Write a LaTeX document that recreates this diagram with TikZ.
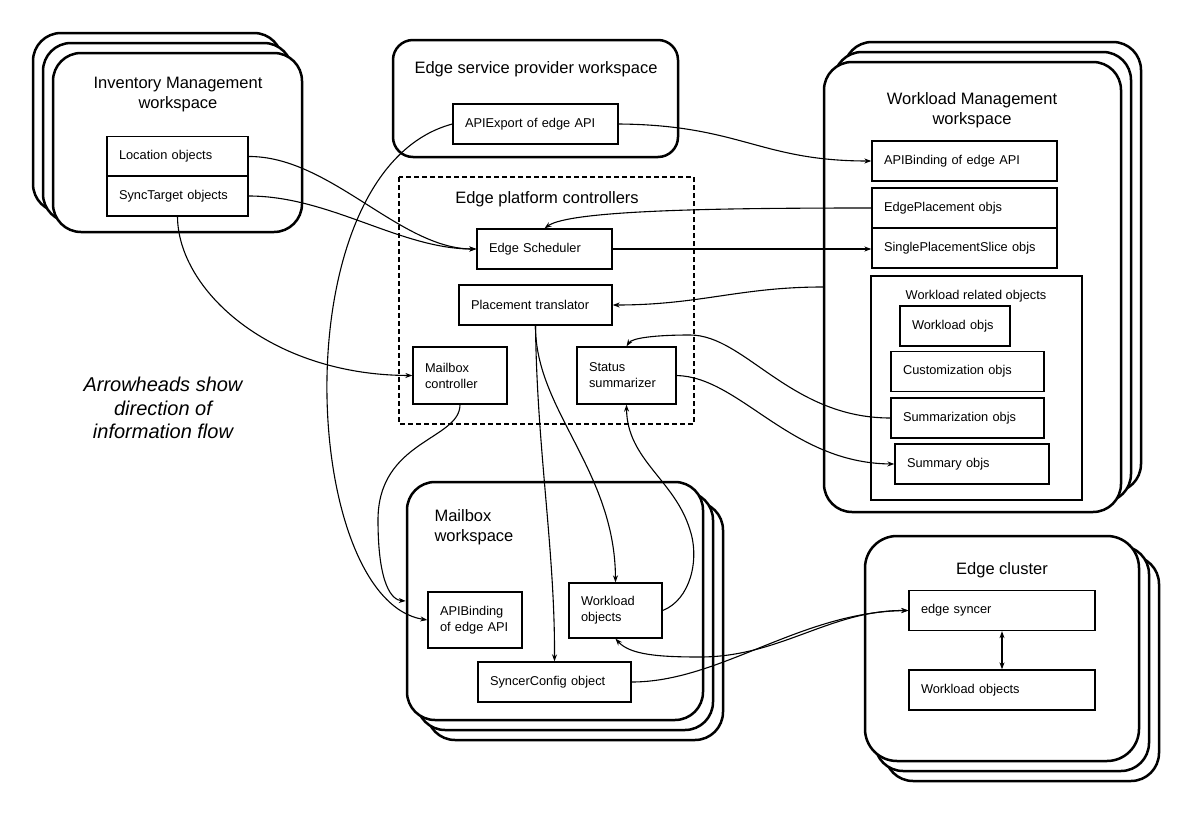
\documentclass[tikz,border=0pt]{standalone}
\usepackage{fontspec}
\setmainfont{Liberation Sans}
\usetikzlibrary{arrows.meta}

\begin{document}
\begin{tikzpicture}[x=1pt, y=-1pt, >={Stealth[length=7pt,width=5pt]},
  ws/.style={draw, line width=2.5pt, rounded corners=28pt, fill=white},
  box/.style={draw, line width=1.3pt, fill=white, inner xsep=12pt, inner ysep=0pt, align=left, minimum height=40pt, font=\fontsize{12.8}{16}\selectfont},
  title/.style={font=\fontsize{16.5}{20}\selectfont, align=center},
  flow/.style={->, line width=1.1pt}]
\useasboundingbox (0,0) rectangle (1200,835);

\foreach \d in {20,10} \draw[ws] (53-\d,53-\d) rectangle ++(249,179);
\node (inv) [ws, minimum width=249pt, minimum height=179pt] at (177.5,142.5) {};
\node (esp) [ws, rounded corners=20pt, minimum width=285pt, minimum height=117pt] at (535.5,98.5) {};
\foreach \d in {20,10} \draw[ws] (824+\d,62-\d) rectangle ++(297,450);
\node (wm) [ws, minimum width=297pt, minimum height=450pt] at (972.5,287) {};
\foreach \d in {20,10} \draw[ws] (407+\d,482+\d) rectangle ++(296,238);
\node (mbws) [ws, minimum width=296pt, minimum height=238pt] at (555,601) {};
\foreach \d in {20,10} \draw[ws] (865+\d,536+\d) rectangle ++(274,225);
\node (ec) [ws, rounded corners=32pt, minimum width=274pt, minimum height=225pt] at (1002,648.5) {};
\draw [dashed, line width=1.2pt, dash pattern=on 5pt off 3pt] (399,177) rectangle (694,424);
\draw [line width=1.3pt] (871,276) rectangle (1082,500);

\node (invt) [title] at (178,95) {Inventory Management\\workspace};
\node (espt) [title, anchor=west] at (411,69) {Edge service provider workspace};
\node (wmt) [title] at (972,110) {Workload Management\\workspace};
\node (epct) [title] at (547,199) {Edge platform controllers};
\node (mbt) [title, anchor=west, align=left] at (431,527) {Mailbox\\workspace};
\node (ect) [title] at (1002,570) {Edge cluster};
\node (wrt) [font=\fontsize{12.8}{16}\selectfont] at (976,296) {Workload related objects};
\node (note) [font=\fontsize{20}{23.5}\selectfont\itshape, align=center] at (163,408) {Arrowheads show\\direction of\\information flow};

\node (loc) [box, text width=117pt] at (177.5,156.5) {Location objects};
\node (sync) [box, text width=117pt] at (177.5,196) {SyncTarget objects};
\node (apix) [box, text width=141pt] at (535.5,124) {APIExport of edge API};
\node (sched) [box, text width=111pt] at (544.5,249) {Edge Scheduler};
\node (ptrans) [box, text width=129pt] at (535.5,305) {Placement translator};
\node (mbctl) [box, text width=70pt, minimum height=57pt] at (460,375.5) {Mailbox\\controller};
\node (ssum) [box, text width=75pt, minimum height=57pt] at (626.5,375.5) {Status\\summarizer};
\node (wmbind) [box, text width=161pt] at (964.5,161) {APIBinding of edge API};
\node (eplace) [box, text width=161pt] at (964.5,208) {EdgePlacement objs};
\node (slice) [box, text width=161pt] at (964.5,248) {SinglePlacementSlice objs};
\node (wobjs) [box, text width=86pt] at (955,326) {Workload objs};
\node (custom) [box, text width=129pt] at (967.5,371.5) {Customization objs};
\node (sumz) [box, text width=129pt] at (967.5,418) {Summarization objs};
\node (summ) [box, text width=130pt] at (972,464) {Summary objs};
\node (mbbind) [box, text width=70pt, minimum height=56pt] at (475,620) {APIBinding\\of edge API};
\node (mbwl) [box, text width=69pt, minimum height=55pt] at (615.5,610.5) {Workload\\objects};
\node (scfg) [box, text width=129pt] at (554.5,682) {SyncerConfig object};
\node (esync) [box, text width=162pt] at (1002,610.5) {edge syncer};
\node (ecwl) [box, text width=162pt] at (1002,690) {Workload objects};

\draw [flow] (loc.east) .. controls (330,156) and (400,249) .. (sched.west);
\draw [flow] (sync.east) .. controls (330,196) and (400,249) .. (sched.west);
\draw [flow] (sync.south) .. controls (178,290) and (270,375) .. (mbctl.west);
\draw [flow] (apix.west) .. controls (280,170) and (300,600) .. (mbbind.west);
\draw [flow] (mbctl.south) .. controls (460,440) and (378,440) .. (378,520) .. controls (378,585) and (392,600) .. (mbws.west);
\draw [flow] (apix.east) .. controls (740,125) and (760,161) .. (wmbind.west);
\draw [flow] (eplace.west) .. controls (720,208) and (570,210) .. (sched.north);
\draw [flow] (sched.east) -- (sched.east -| slice.west);
\draw [flow] (wm.west) .. controls (740,287) and (700,305) .. (ptrans.east);
\draw [flow] (sumz.west) .. controls (790,418) and (745,335) .. (690,335) .. controls (655,335) and (632,338) .. (ssum.north);
\draw [flow] (ssum.east) .. controls (740,377) and (790,463) .. (summ.west);
\draw [flow] (ptrans.south) .. controls (537,450) and (555,550) .. (scfg.north);
\draw [flow] (ptrans.south) .. controls (535,410) and (615,470) .. (mbwl.north);
\draw [flow] (mbwl.east) .. controls (690,600) and (700,560) .. (690,530) .. controls (675,480) and (627,460) .. (ssum.south);
\draw [flow, <->] (esync.west) .. controls (830,610) and (780,657) .. (700,657) .. controls (660,657) and (630,655) .. (mbwl.south);
\draw [flow] (scfg.east) .. controls (720,682) and (800,612) .. (esync.west);
\draw [flow, <->] (esync.south) -- (ecwl.north);
\end{tikzpicture}
\end{document}
